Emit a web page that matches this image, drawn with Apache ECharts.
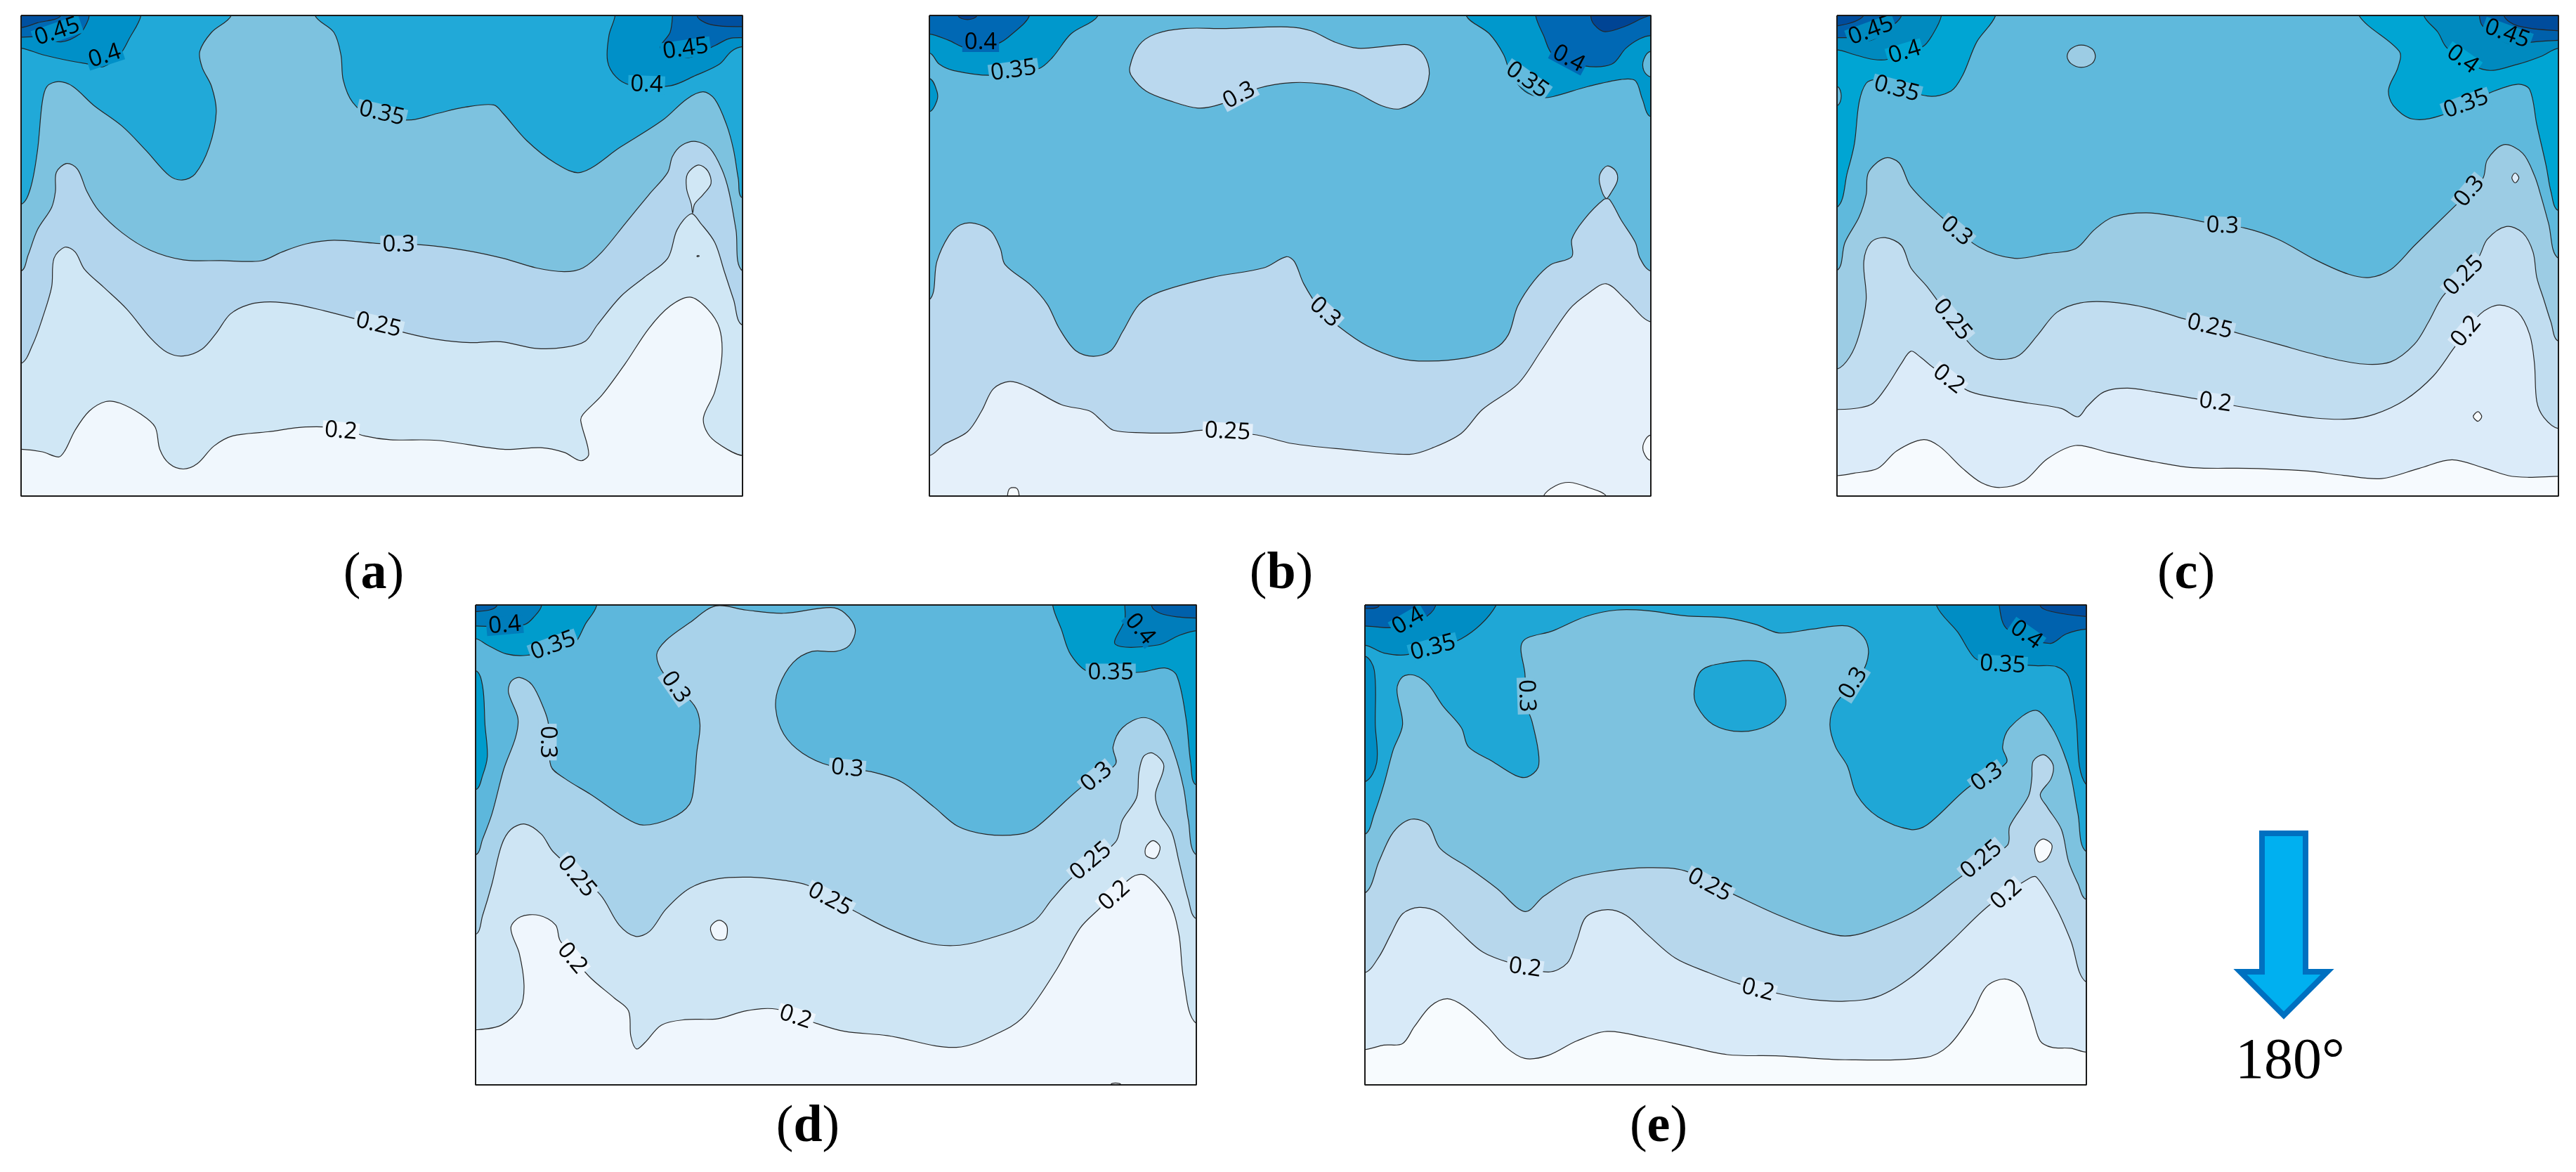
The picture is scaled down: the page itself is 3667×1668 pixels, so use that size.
<!DOCTYPE html>
<html>
<head>
<meta charset="utf-8">
<title>Contours</title>
<style>
html,body{margin:0;padding:0;background:#fff;}
#main{width:3667px;height:1668px;}
</style>
<script src="https://cdn.jsdelivr.net/npm/echarts@6/dist/echarts.min.js"></script>
</head>
<body>
<div id="main"></div>
<script>
// every contour is [band, [[x,y],...]], painted in order.
// points past the frame only close the region, they get clipped by the grid.

var panelAColors = ['#F0F7FD','#D0E7F5','#B3D5ED','#7DC2DF','#21A9D8','#0090C8','#0068B3','#0050A0'];
var panelAExtent = [15,1549,27,1537];
var panelARegions = [
    [1,[[15,1390],[60,1398],[95,1414],[108,1395],[130,1330],[160,1270],[195,1240],[225,1245],[270,1280],[300,1320],[310,1390],[330,1435],[360,1452],[390,1435],[425,1380],[465,1348],[540,1335],[620,1320],[700,1325],[745,1348],[800,1360],[900,1362],[1040,1390],[1120,1385],[1170,1400],[1205,1426],[1222,1405],[1205,1300],[1210,1280],[1250,1220],[1300,1120],[1350,1010],[1395,940],[1438,912],[1475,950],[1500,1010],[1505,1100],[1490,1210],[1466,1290],[1475,1340],[1500,1375],[1549,1410],[1650,1410],[1650,-60],[-60,-60],[-60,1390]]],
    [2,[[15,1120],[40,1060],[60,980],[80,880],[85,790],[108,755],[130,770],[150,825],[190,880],[240,950],[290,1040],[325,1085],[360,1097],[400,1075],[430,1025],[460,965],[500,935],[545,927],[600,935],[660,955],[725,980],[835,1025],[900,1045],[970,1055],[1035,1052],[1110,1073],[1170,1070],[1215,1050],[1240,1000],[1290,910],[1340,850],[1390,790],[1410,700],[1440,650],[1460,680],[1490,740],[1510,830],[1530,920],[1549,1000],[1650,1000],[1650,-60],[-60,-60],[-60,1120]]],
    [1,[[1454,781],[1457,783],[1454,785],[1452,783]]],
    [3,[[15,830],[30,780],[50,700],[80,630],[88,580],[90,520],[112,492],[135,510],[155,580],[180,640],[230,710],[290,765],[360,795],[440,797],[525,798],[570,770],[620,745],[680,733],[770,743],[870,748],[960,765],[1040,790],[1110,820],[1170,832],[1210,820],[1250,770],[1300,680],[1350,590],[1390,520],[1400,470],[1420,435],[1450,423],[1480,445],[1505,510],[1520,580],[1535,700],[1549,830],[1650,830],[1650,-60],[-60,-60],[-60,830]]],
    [1,[[1443,648],[1440,620],[1430,570],[1432,525],[1455,497],[1475,515],[1482,555],[1465,590],[1447,620]]],
    [4,[[15,620],[35,570],[50,450],[60,300],[70,250],[95,235],[125,250],[170,310],[230,375],[280,450],[330,530],[358,544],[385,525],[415,440],[430,330],[420,250],[400,190],[395,140],[420,80],[462,27],[462,-60],[-60,-60],[-60,620]]],
    [4,[[640,27],[680,80],[695,150],[700,230],[720,300],[760,345],[845,355],[900,335],[960,315],[1020,308],[1040,335],[1090,420],[1150,490],[1205,520],[1290,440],[1380,355],[1430,290],[1465,267],[1490,290],[1515,370],[1530,450],[1540,540],[1549,600],[1650,600],[1650,-60],[640,-60]]],
    [5,[[15,130],[60,150],[120,170],[160,180],[190,188],[225,150],[245,100],[270,27],[270,-60],[-60,-60],[-60,130]]],
    [5,[[1278,27],[1265,90],[1262,170],[1280,220],[1310,245],[1395,248],[1450,215],[1500,180],[1525,140],[1549,125],[1650,125],[1650,-60],[1278,-60]]],
    [6,[[15,95],[50,95],[100,110],[140,85],[155,50],[160,27],[160,-60],[-60,-60],[-60,95]]],
    [6,[[1400,27],[1395,80],[1375,130],[1430,160],[1490,122],[1520,100],[1549,97],[1650,97],[1650,-60],[1400,-60]]],
    [7,[[15,65],[50,50],[100,27],[100,-60],[-60,-60],[-60,65]]],
    [7,[[1452,27],[1470,50],[1500,60],[1549,62],[1650,62],[1650,-60],[1452,-60]]]
];
var panelALabels = [
    ['0.45',92,78,19,5],['0.4',193,155,18,5],['0.35',782,335,-13,3],['0.3',818,748,0,2],['0.25',775,1000,-13,1],
    ['0.2',695,1333,-5,0],['0.45',1428,132,8,5],['0.4',1345,245,-2,4]
];

var panelBColors = ['#E5F0FA','#BAD8EE','#63BADD','#0098CC','#0068B4','#004494','#F5FAFE'];
var panelBExtent = [19,1553,27,1537];
var panelBRegions = [
    [6,[[185,1537],[190,1513],[205,1513],[210,1537],[210,1600],[185,1600]]],
    [6,[[1325,1537],[1350,1505],[1380,1494],[1420,1510],[1458,1537],[1458,1600],[1325,1600]]],
    [6,[[1553,1345],[1538,1370],[1538,1400],[1553,1425],[1650,1425],[1650,1345]]],
    [1,[[19,1410],[50,1375],[100,1335],[130,1270],[155,1200],[190,1177],[230,1195],[300,1250],[360,1270],[385,1300],[410,1330],[470,1338],[550,1338],[605,1330],[715,1345],[790,1372],[900,1390],[1040,1406],[1090,1385],[1150,1340],[1195,1265],[1270,1185],[1320,1080],[1380,950],[1420,900],[1458,870],[1500,920],[1553,990],[1650,990],[1650,-60],[-60,-60],[-60,1410]]],
    [2,[[19,920],[35,800],[60,720],[85,685],[115,680],[150,705],[170,760],[180,810],[235,875],[270,935],[295,1010],[330,1080],[368,1098],[405,1080],[430,1020],[465,935],[510,895],[620,850],[730,820],[778,785],[795,800],[815,870],[850,950],[890,1005],[950,1065],[1020,1105],[1080,1113],[1160,1103],[1220,1075],[1250,1030],[1270,940],[1305,860],[1340,810],[1385,785],[1385,730],[1410,670],[1453,605],[1465,605],[1490,670],[1520,740],[1530,790],[1553,830],[1650,830],[1650,-60],[-60,-60],[-60,920]]],
    [1,[[1458,602],[1445,560],[1445,525],[1460,500],[1478,515],[1482,545],[1470,580]]],
    [1,[[445,190],[465,120],[500,85],[560,68],[650,68],[780,63],[830,75],[880,110],[930,130],[1000,122],[1040,120],[1070,150],[1082,210],[1065,280],[1020,320],[980,310],[920,265],[860,243],[790,238],[720,255],[640,305],[590,318],[530,295],[480,265],[450,220]]],
    [3,[[19,145],[40,180],[70,200],[150,215],[250,195],[280,160],[320,85],[378,27],[378,-60],[-60,-60],[-60,145]]],
    [3,[[1160,27],[1210,85],[1240,150],[1255,210],[1285,265],[1320,285],[1345,282],[1420,250],[1490,228],[1520,232],[1535,290],[1553,345],[1650,345],[1650,-60],[1160,-60]]],
    [3,[[19,225],[35,265],[35,295],[19,330],[-60,330],[-60,225]]],
    [2,[[1553,140],[1538,165],[1538,200],[1553,220],[1650,220],[1650,140]]],
    [4,[[19,85],[60,105],[100,130],[165,115],[195,85],[232,27],[232,-60],[-60,-60],[-60,85]]],
    [4,[[1308,27],[1325,90],[1345,150],[1410,185],[1470,180],[1500,130],[1530,100],[1553,90],[1650,90],[1650,-60],[1308,-60]]],
    [5,[[80,27],[100,40],[120,27],[120,-60],[80,-60]]],
    [5,[[1425,27],[1432,55],[1455,78],[1500,60],[1553,27],[1650,27],[1650,-60],[1425,-60]]]
];
var panelBLabels = [
    ['0.4',128,113,0,4],['0.35',198,200,8,2],['0.3',678,278,28,1],['0.3',860,960,-42,1],['0.25',653,1335,-3,0],
    ['0.4',1378,163,-28,4],['0.35',1290,230,-35,2]
];

var panelCColors = ['#F6FAFE','#DBEBF9','#C1DDF0','#9CCCE4','#5FB9DC','#00A5D3','#008ABF','#0060AB','#004C9C'];
var panelCExtent = [23,1556,27,1537];
var panelCRegions = [
    [1,[[23,1473],[60,1465],[110,1450],[150,1395],[205,1360],[240,1380],[290,1450],[330,1495],[370,1510],[420,1490],[470,1420],[530,1378],[600,1400],[700,1430],[780,1448],[900,1450],[1020,1458],[1100,1472],[1180,1482],[1260,1450],[1330,1423],[1400,1450],[1450,1473],[1490,1478],[1556,1475],[1650,1475],[1650,-60],[-60,-60],[-60,1473]]],
    [0,[[1385,1272],[1393,1287],[1385,1302],[1375,1287]]],
    [2,[[23,1265],[70,1260],[100,1245],[130,1190],[160,1120],[180,1082],[200,1100],[225,1130],[300,1205],[350,1225],[430,1245],[500,1262],[535,1288],[555,1255],[590,1210],[640,1198],[700,1210],[780,1230],[875,1255],[960,1275],[1040,1292],[1110,1295],[1165,1280],[1230,1235],[1290,1160],[1335,1070],[1390,965],[1430,937],[1470,960],[1495,1030],[1505,1120],[1510,1240],[1525,1290],[1556,1325],[1650,1325],[1650,-60],[-60,-60],[-60,1265]]],
    [3,[[23,1138],[50,1100],[70,1030],[85,920],[80,800],[95,740],[125,725],[160,750],[180,820],[215,880],[300,1050],[335,1095],[370,1108],[410,1095],[450,1030],[490,960],[540,930],[600,927],[680,945],[760,980],[875,1025],[960,1060],[1060,1100],[1140,1122],[1200,1115],[1250,1060],[1280,990],[1310,910],[1385,790],[1405,730],[1445,690],[1480,710],[1502,770],[1510,850],[1525,920],[1540,990],[1556,1050],[1650,1050],[1650,-60],[-60,-60],[-60,1138]]],
    [4,[[23,828],[40,740],[70,660],[85,590],[90,520],[125,475],[155,490],[180,565],[245,660],[325,755],[400,790],[470,775],[530,760],[570,700],[610,660],[680,647],[750,660],[810,678],[890,695],[960,730],[1040,795],[1110,840],[1155,850],[1200,825],[1250,750],[1340,620],[1395,540],[1405,480],[1440,433],[1480,460],[1505,530],[1520,600],[1535,680],[1556,790],[1650,790],[1650,-60],[-60,-60],[-60,828]]],
    [3,[[542,120],[565,132],[572,155],[565,178],[542,190],[520,178],[512,155],[520,132]]],
    [5,[[23,630],[45,520],[60,430],[70,300],[85,240],[105,230],[215,280],[265,265],[290,215],[320,110],[360,27],[360,-60],[-60,-60],[-60,630]]],
    [5,[[1132,27],[1218,140],[1215,190],[1195,260],[1205,310],[1245,352],[1305,342],[1410,270],[1470,243],[1495,260],[1510,370],[1530,500],[1540,580],[1556,640],[1650,640],[1650,-60],[1132,-60]]],
    [4,[[23,250],[32,280],[23,310],[-60,310],[-60,250]]],
    [6,[[23,135],[60,150],[100,165],[130,165],[205,125],[225,90],[245,27],[245,-60],[-60,-60],[-60,135]]],
    [6,[[1270,27],[1300,80],[1320,130],[1400,198],[1470,180],[1520,155],[1556,130],[1650,130],[1650,-60],[1270,-60]]],
    [7,[[23,97],[45,97],[95,105],[140,60],[160,27],[160,-60],[-60,-60],[-60,97]]],
    [7,[[1388,27],[1395,60],[1450,115],[1505,110],[1556,105],[1650,105],[1650,-60],[1388,-60]]],
    [8,[[23,60],[80,27],[80,-60],[-60,-60],[-60,60]]],
    [8,[[1440,27],[1470,60],[1556,75],[1650,75],[1650,-60],[1440,-60]]],
    [1,[[1464,522],[1472,537],[1464,553],[1457,537]]]
];
var panelCLabels = [
    ['0.45',95,75,20,6],['0.4',167,143,17,5],['0.35',150,258,-15,4],['0.3',277,705,-40,3],['0.25',268,983,-50,2],
    ['0.2',260,1170,-38,1],['0.3',842,688,-2,3],['0.25',815,1005,-13,2],['0.2',827,1243,-8,1],['0.3',1367,580,50,3],
    ['0.25',1355,845,45,2],['0.2',1360,1020,50,1],['0.35',1360,305,20,4],['0.4',1352,165,-35,5],['0.45',1447,85,-20,6]
];

var panelDColors = ['#EFF6FD','#CEE5F4','#A8D2EA','#5DB7DC','#009CCC','#007DBB','#0060AB'];
var panelDExtent = [25,1557,24,1533];
var panelDRegions = [
    [1,[[25,1360],[80,1345],[120,1290],[128,1220],[118,1120],[100,1040],[120,1005],[160,1000],[195,1030],[205,1080],[265,1190],[320,1260],[350,1300],[355,1380],[367,1420],[385,1400],[420,1345],[470,1328],[540,1325],[600,1300],[665,1295],[750,1340],[810,1365],[900,1378],[1047,1415],[1150,1360],[1195,1310],[1260,1170],[1310,1040],[1350,980],[1420,880],[1450,875],[1500,960],[1520,1060],[1530,1200],[1557,1340],[1650,1340],[1650,-60],[-60,-60],[-60,1360]]],
    [0,[[543,1015],[558,1030],[560,1055],[555,1075],[535,1075],[525,1050],[527,1030]]],
    [0,[[1375,1533],[1385,1527],[1397,1533],[1397,1600],[1375,1600]]],
    [2,[[25,1060],[40,1000],[60,900],[80,780],[100,730],[130,713],[165,745],[190,800],[290,935],[330,1030],[365,1066],[395,1050],[430,980],[480,915],[540,885],[610,880],[680,890],[730,905],[835,990],[900,1040],[980,1085],[1040,1095],[1100,1080],[1210,1020],[1250,950],[1290,885],[1385,770],[1400,700],[1430,630],[1435,550],[1445,500],[1465,490],[1488,530],[1470,620],[1480,680],[1505,740],[1520,830],[1540,950],[1557,1010],[1650,1010],[1650,-60],[-60,-60],[-60,1060]]],
    [0,[[1465,765],[1480,785],[1470,820],[1450,812],[1450,785]]],
    [3,[[25,810],[40,760],[60,680],[85,540],[110,440],[115,380],[95,300],[100,265],[118,252],[145,275],[170,350],[180,400],[185,530],[215,570],[270,620],[340,690],[380,716],[440,695],[480,650],[490,580],[495,490],[502,400],[490,340],[425,240],[410,180],[430,135],[480,80],[535,27],[600,40],[680,50],[780,32],[810,50],[832,100],[820,150],[790,170],[740,170],[700,205],[670,280],[663,350],[680,430],[720,490],[780,530],[865,548],[930,580],[1000,660],[1050,720],[1110,745],[1180,745],[1215,725],[1310,600],[1385,525],[1380,470],[1400,410],[1445,378],[1485,410],[1510,490],[1530,600],[1540,700],[1557,810],[1650,810],[1650,-60],[-60,-60],[-60,810]]],
    [4,[[25,230],[40,280],[45,400],[50,500],[40,560],[25,605],[-60,605],[-60,230]]],
    [4,[[25,130],[50,150],[90,178],[135,182],[230,150],[260,80],[282,27],[282,-60],[-60,-60],[-60,130]]],
    [4,[[1252,27],[1270,100],[1290,180],[1330,235],[1440,235],[1490,222],[1515,245],[1535,380],[1545,520],[1557,590],[1650,590],[1650,-60],[1252,-60]]],
    [5,[[25,90],[80,92],[130,85],[150,60],[165,27],[165,-60],[-60,-60],[-60,90]]],
    [5,[[1405,27],[1405,70],[1385,148],[1475,150],[1520,120],[1557,105],[1650,105],[1650,-60],[1405,-60]]],
    [6,[[25,45],[70,27],[70,-60],[-60,-60],[-60,45]]],
    [6,[[1462,27],[1480,50],[1520,62],[1557,65],[1650,65],[1650,-60],[1462,-60]]]
];
var panelDLabels = [
    ['0.4',87,88,5,5],['0.35',190,152,20,3],['0.3',450,283,-55,2],['0.3',178,455,-90,2],['0.3',815,538,-5,2],
    ['0.25',240,878,-50,1],['0.25',778,950,-28,1],['0.2',230,1135,-50,0],['0.2',705,1320,-18,0],['0.3',1345,565,40,2],
    ['0.25',1333,830,40,1],['0.2',1383,938,42,0],['0.35',1375,237,0,3],['0.4',1437,100,-50,5]
];

var panelEColors = ['#F7FBFE','#D8EAF8','#B7D7EC','#7DC2DF','#1FA7D6','#008DC4','#0062AE','#004C9C'];
var panelEExtent = [20,1553,24,1533];
var panelERegions = [
    [1,[[20,1422],[60,1408],[100,1403],[125,1350],[160,1285],[195,1262],[230,1285],[280,1350],[320,1415],[360,1450],[410,1440],[470,1395],[535,1365],[620,1385],[700,1410],[790,1438],[900,1442],[1040,1454],[1210,1447],[1260,1410],[1310,1310],[1340,1225],[1380,1200],[1415,1230],[1440,1330],[1455,1395],[1480,1415],[1520,1418],[1553,1430],[1650,1430],[1650,-60],[-60,-60],[-60,1422]]],
    [2,[[20,1180],[50,1130],[75,1060],[100,995],[135,975],[175,990],[220,1050],[270,1115],[330,1150],[410,1178],[450,1150],[470,1080],[490,1005],[535,982],[575,1000],[620,1060],[680,1135],[750,1180],[815,1215],[905,1248],[970,1265],[1040,1270],[1110,1255],[1180,1195],[1260,1090],[1345,970],[1430,885],[1447,880],[1490,980],[1520,1080],[1553,1210],[1650,1210],[1650,-60],[-60,-60],[-60,1180]]],
    [3,[[20,930],[50,830],[75,750],[100,710],[125,697],[155,715],[180,790],[240,850],[300,915],[360,988],[400,940],[460,885],[540,860],[620,850],[700,860],[805,935],[900,1000],[990,1050],[1040,1065],[1090,1050],[1190,985],[1285,880],[1385,780],[1390,720],[1430,625],[1437,570],[1440,515],[1462,495],[1482,525],[1478,570],[1455,620],[1470,660],[1500,730],[1515,830],[1535,900],[1553,950],[1650,950],[1650,-60],[-60,-60],[-60,930]]],
    [0,[[1463,760],[1480,780],[1470,820],[1452,832],[1443,795],[1450,770]]],
    [4,[[20,745],[40,680],[60,590],[80,480],[100,400],[88,290],[100,250],[125,245],[155,275],[185,340],[225,410],[240,470],[290,515],[340,560],[365,565],[388,535],[388,480],[375,390],[365,345],[360,240],[355,140],[420,105],[490,60],[555,40],[620,42],[700,58],[790,65],[850,85],[900,112],[970,100],[1045,90],[1080,125],[1090,175],[1075,240],[1020,335],[1008,400],[1020,470],[1045,530],[1065,620],[1110,690],[1180,730],[1215,715],[1300,600],[1383,520],[1375,470],[1390,410],[1445,355],[1480,410],[1505,490],[1520,560],[1535,680],[1553,800],[1650,800],[1650,-60],[-60,-60],[-60,745]]],
    [4,[[720,290],[735,230],[780,207],[850,200],[885,225],[910,290],[912,350],[880,400],[820,422],[760,400],[725,340]]],
    [5,[[20,185],[40,230],[42,400],[45,520],[20,580],[-60,580],[-60,185]]],
    [5,[[20,150],[60,175],[110,180],[225,130],[298,27],[298,-60],[-60,-60],[-60,150]]],
    [5,[[1235,27],[1280,110],[1315,190],[1345,205],[1445,215],[1490,218],[1515,250],[1530,370],[1553,590],[1650,590],[1650,-60],[1235,-60]]],
    [6,[[20,90],[80,95],[140,70],[170,27],[170,-60],[-60,-60],[-60,90]]],
    [6,[[1368,27],[1385,100],[1475,145],[1510,115],[1553,100],[1650,100],[1650,-60],[1368,-60]]],
    [7,[[20,35],[50,27],[50,-60],[-60,-60],[-60,35]]],
    [7,[[1455,27],[1480,45],[1553,60],[1650,60],[1650,-60],[1455,-60]]]
];
var panelELabels = [
    ['0.4',112,75,30,5],['0.35',165,158,15,4],['0.3',363,310,-88,3],['0.3',1058,270,58,3],['0.3',1342,565,35,3],
    ['0.25',752,905,-28,2],['0.25',1330,825,40,2],['0.2',360,1165,-8,1],['0.2',855,1235,-15,1],['0.2',1383,935,42,1],
    ['0.35',1375,212,-3,4],['0.4',1425,118,-35,5]
];

// left, top, width, height of each frame on the page
var panelBoxes = [
    [30,22,1027,684],
    [1323,22,1027,684],
    [2615,22,1027,684],
    [677,861,1026,683],
    [1943,861,1027,683]
];
var panels = [
    {colors:panelAColors, extent:panelAExtent, regions:panelARegions, labels:panelALabels},
    {colors:panelBColors, extent:panelBExtent, regions:panelBRegions, labels:panelBLabels},
    {colors:panelCColors, extent:panelCExtent, regions:panelCRegions, labels:panelCLabels},
    {colors:panelDColors, extent:panelDExtent, regions:panelDRegions, labels:panelDLabels},
    {colors:panelEColors, extent:panelEExtent, regions:panelERegions, labels:panelELabels}
];
var captions = [['a',532,838],['b',1824,838],['c',3112,838],['d',1150,1625],['e',2361,1625]];

var myChart = echarts.init(document.getElementById('main'));

var grids = [], xAxes = [], yAxes = [], seriesList = [];

panels.forEach(function (panel, i) {
    var box = panelBoxes[i], ext = panel.extent;
    grids.push({left:box[0], top:box[1], width:box[2], height:box[3], show:true, borderWidth:0, backgroundColor:panel.colors[0]});
    xAxes.push({type:'value', gridIndex:i, min:ext[0], max:ext[1], show:false});
    yAxes.push({type:'value', gridIndex:i, min:ext[2], max:ext[3], inverse:true, show:false});

    seriesList.push({
        type:'custom', xAxisIndex:i, yAxisIndex:i, clip:true, silent:true, z:2,
        data:panel.regions.map(function (r, k) { return [k]; }),
        renderItem:function (params, api) {
            var region = panel.regions[params.dataIndex];
            return {
                type:'polygon',
                shape:{points:region[1].map(function (p) { return api.coord(p); }), smooth:0.33},
                style:{fill:panel.colors[region[0]], stroke:'#262626', lineWidth:1.2}
            };
        }
    });

    seriesList.push({
        type:'custom', xAxisIndex:i, yAxisIndex:i, clip:true, silent:true, z:3,
        data:panel.labels.map(function (l, k) { return [k]; }),
        renderItem:function (params, api) {
            var lab = panel.labels[params.dataIndex];
            var pos = api.coord([lab[1], lab[2]]);
            return {
                type:'text', x:pos[0], y:pos[1], rotation:lab[3] * Math.PI / 180,
                style:{
                    text:lab[0], fill:'#000', font:'33px "Open Sans"', align:'center', verticalAlign:'middle',
                    backgroundColor:panel.colors[lab[4]], padding:[0,3], lineHeight:26
                }
            };
        }
    });

    // frame on top of the fills
    seriesList.push({
        type:'line', xAxisIndex:i, yAxisIndex:i, clip:false, silent:true, z:4, symbol:'none', animation:false,
        lineStyle:{color:'#1a1a1a', width:2},
        data:[[ext[0],ext[2]],[ext[1],ext[2]],[ext[1],ext[3]],[ext[0],ext[3]],[ext[0],ext[2]]]
    });
});

var graphicList = captions.map(function (c) {
    return {
        type:'text', x:c[1], y:c[2] - 20, z:10,
        style:{
            text:'{p|(}{b|' + c[0] + '}{p|)}', align:'center', verticalAlign:'middle',
            rich:{
                p:{font:'74px "Liberation Serif"', fill:'#000'},
                b:{font:'bold 74px "Liberation Serif"', fill:'#000'}
            }
        }
    };
});
graphicList.push({
    type:'polygon', z:10,
    shape:{points:[[3220,1186],[3282,1186],[3282,1383],[3313,1383],[3251,1445],[3189,1383],[3220,1383]]},
    style:{fill:'#00B0F0', stroke:'#0070C0', lineWidth:8, lineJoin:'miter'}
});
graphicList.push({
    type:'text', x:3260, y:1512, z:10,
    style:{text:'180\u00B0', font:'82px "Liberation Serif"', fill:'#000', align:'center', verticalAlign:'middle'}
});

myChart.setOption({
    animation:false,
    backgroundColor:'#fff',
    grid:grids,
    xAxis:xAxes,
    yAxis:yAxes,
    series:seriesList,
    graphic:graphicList
});
</script>
</body>
</html>
